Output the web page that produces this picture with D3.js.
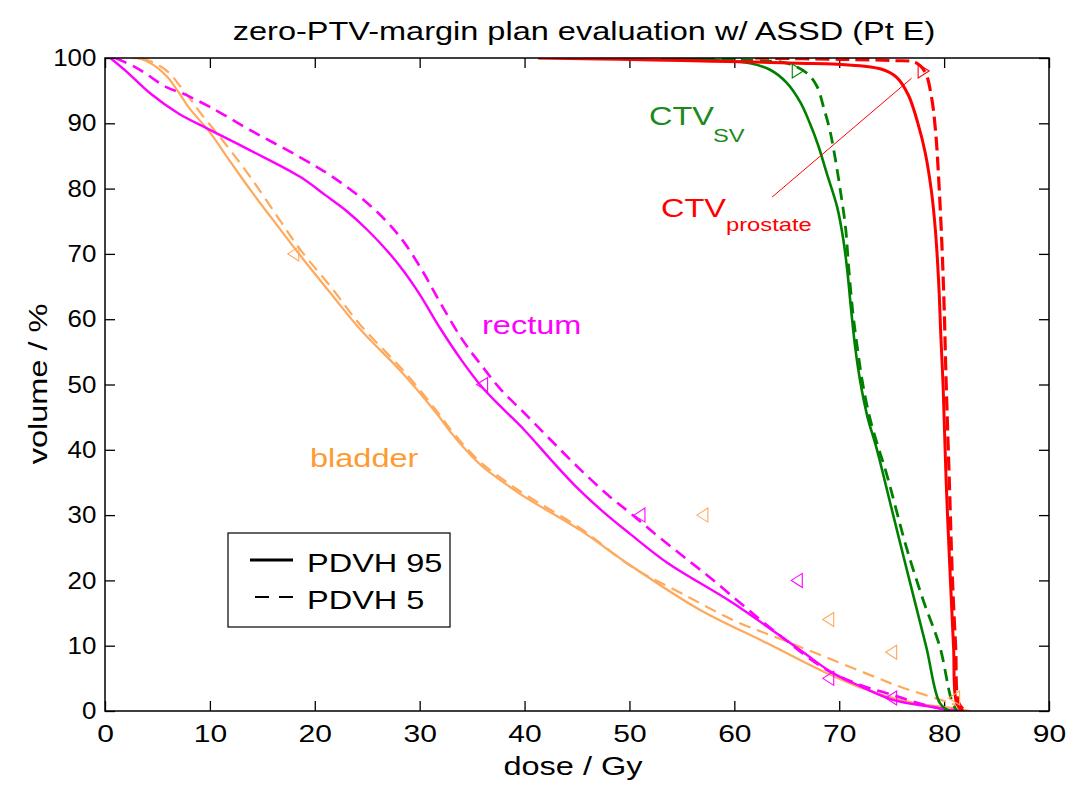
<!DOCTYPE html>
<html>
<head>
<meta charset="utf-8">
<script src="https://cdn.jsdelivr.net/npm/d3@7"></script>
<style>
  body { margin: 0; background: #fff; }
  text { font-family: 'Liberation Sans', Arial, sans-serif; }
</style>
</head>
<body>
<svg width="1069" height="786"></svg>
<script>
// dose (Gy) / volume (%) pairs
const bladder95 = [[2.5,100],[3.5,99.8],[5,98.5],[6,97],[7,94.8],[8,92.4],[10,88.6],[12,84],[14,79.5],[16.4,74.4],[18.6,69.8],[21.7,63.6],[24.3,58.5],[28.4,51.7],[31.6,45.6],[33,42.6],[34.5,39.8],[36,37.4],[38,35],[40,32.8],[45.3,27.7],[50,22.4],[56.7,15.5],[63.1,10.4],[68.8,5.8],[72,3.6],[75.8,1.7],[78,1.0],[80.6,0.5],[82.5,0]];
const bladder5 = [[3.5,100],[5,99],[6.2,97.6],[7.1,95.8],[8.1,93.8],[9.1,91.6],[11.6,86.6],[13.8,81.9],[16.4,75.8],[18.6,70.7],[21.7,64.6],[24.3,59.2],[28.4,52.2],[31.6,46],[33,43],[34.5,40.2],[36,37.8],[38,35.4],[40,33.2],[45.3,28],[50.3,22],[55,18],[59.9,13.9],[64.6,10.9],[69.4,7.8],[74.2,4.7],[75.8,3.7],[80.6,1.2],[82.5,0]];
const rectum95 = [[0.5,100],[2,98],[4.3,94.6],[7,91.5],[10,89],[13.8,85.9],[18.6,81.8],[21,79],[23,76.6],[25,73.7],[27,70.3],[28.5,67.3],[30,63.8],[32,58.5],[34,53.7],[36,49.5],[38,46.2],[40,43],[42.5,38.5],[45,34.2],[47.5,30.5],[50,27.2],[53.6,22.7],[59.9,16.5],[66.3,9.3],[69.4,5.8],[72,3.8],[75.1,1.7],[78.9,0.6],[81,0]];
const rectum5 = [[1,100],[3,98.5],[5.9,95.5],[7.5,94.5],[10,92.5],[13.8,89],[18.6,84.8],[21.7,81.8],[25,77.8],[27,74.7],[28.5,71.8],[30.3,67.3],[32,62.4],[34.1,56.8],[36,52.7],[37.7,49.3],[40,45.6],[42.5,41.5],[45.3,37],[48,33],[50,30.4],[53,26.4],[57.7,20.4],[64,12],[68.8,6.3],[72,4],[75,2.5],[78,1],[80,0.3],[82,0]];
const ctvSv95 = [[53,100],[58,99.7],[61.5,99.2],[63.4,98.2],[65,96.2],[66.3,93.2],[67.2,90],[68,86.6],[68.8,82.4],[69.8,77.2],[70.4,72.1],[70.8,67],[71.1,62],[71.5,56],[72,50.5],[72.7,45],[73.6,40],[75.1,30.3],[76.7,20],[78.3,9.8],[79.6,1.2],[80.5,0]];
const ctvSv5 = [[57,100],[62,99.6],[65,99.2],[66.9,97.7],[67.9,95.6],[68.5,92.5],[69.1,89],[69.6,84.8],[70.1,79.8],[70.6,74.1],[70.9,68],[71.3,61],[71.7,56],[72.2,50.5],[72.9,45],[73.7,40.5],[74.5,36.4],[76.4,25.1],[78,17],[79.6,9.8],[80.7,1.7],[81.2,0]];
const ctvPr95 = [[41.3,100],[49,99.8],[55,99.6],[62,99.4],[66,99.2],[69.4,99.1],[72,98.8],[74.2,98.2],[75.5,97],[76.6,94.3],[77.5,90],[78.2,85.5],[78.8,79.5],[79.2,73],[79.5,65],[79.7,57],[79.9,50],[80.2,35],[80.6,20],[80.9,9.8],[81.2,1.2],[81.8,0]];
const ctvPr5 = [[62,100],[70,99.8],[75,99.6],[77.3,99.3],[78.2,97.8],[78.8,94],[79.2,88.5],[79.5,81],[79.8,71],[80,62],[80.2,50],[80.5,35],[80.8,20],[81.1,9.8],[81.4,1.2],[82,0]];

// constraint markers
const rectumMarks = [[36,50],[51,30],[66,20],[69,5],[75,2]];
const bladderMarks = [[18,70],[57,30],[69,14],[75,9],[81,2]];
const ctvSvMarks = [[66,98]];
const ctvPrMarks = [[78,98]];
const pointerLine = [[63.6,78.7],[76.9,96.9]];

const xTicks = d3.range(0, 91, 10);
const yTicks = d3.range(0, 101, 10);

const ORANGE = '#ffa95c', MAGENTA = '#ff00ff', GREEN = '#008000', RED = '#ff0000';
const SX = 1.25; // glyphs in the original are wider than Helvetica

const svg = d3.select('svg');

const x = d3.scaleLinear().domain([0, 90]).range([105, 1049]);
const y = d3.scaleLinear().domain([0, 100]).range([711, 58]);

svg.append('defs').append('clipPath').attr('id', 'plot')
  .append('rect')
    .attr('x', x(0)).attr('y', y(100))
    .attr('width', x(90) - x(0)).attr('height', y(0) - y(100));

function label(txt, px, py, size, color, anchor, rot) {
  return svg.append('text')
    .attr('transform', 'translate(' + px + ',' + py + ')' + (rot ? ' rotate(' + rot + ')' : '') + ' scale(' + SX + ',1)')
    .attr('text-anchor', anchor || 'start')
    .attr('font-size', size)
    .attr('fill', color || '#000')
    .text(txt);
}

// axes with inward ticks on all four sides
const styleAxis = g => {
  g.select('.domain').remove();
  g.selectAll('line').attr('stroke', '#000').attr('stroke-width', 1.3);
};

svg.append('g').attr('transform', 'translate(0,' + y(0) + ')')
  .call(d3.axisBottom(x).tickValues(xTicks).tickSize(-10).tickPadding(14))
  .call(styleAxis)
  .call(g => g.selectAll('text').attr('font-size', 24).attr('transform', 'scale(' + SX + ',1)'));
svg.append('g').attr('transform', 'translate(0,' + y(100) + ')')
  .call(d3.axisTop(x).tickValues(xTicks).tickSize(-10).tickFormat(''))
  .call(styleAxis);
svg.append('g').attr('transform', 'translate(' + x(0) + ',0)')
  .call(d3.axisLeft(y).tickValues(yTicks).tickSize(-10).tickPadding(8))
  .call(styleAxis)
  .call(g => g.selectAll('text').attr('font-size', 24).attr('transform', 'scale(1.08,1)'));
svg.append('g').attr('transform', 'translate(' + x(90) + ',0)')
  .call(d3.axisRight(y).tickValues(yTicks).tickSize(-10).tickFormat(''))
  .call(styleAxis);

svg.selectAll('.tick text').attr('font-family', "'Liberation Sans', Arial, sans-serif").attr('fill', '#000');

const line = d3.line()
  .x(d => x(d[0]))
  .y(d => y(d[1]))
  .curve(d3.curveCatmullRom.alpha(0.5));

const curves = [
  { data: bladder95, color: ORANGE, w: 2.2, dash: null },
  { data: bladder5, color: ORANGE, w: 2.2, dash: '12,7' },
  { data: rectum95, color: MAGENTA, w: 2.4, dash: null },
  { data: rectum5, color: MAGENTA, w: 2.6, dash: '12,7' },
  { data: ctvSv95, color: GREEN, w: 2.6, dash: null },
  { data: ctvSv5, color: GREEN, w: 2.8, dash: '12,7' },
  { data: ctvPr95, color: RED, w: 3, dash: null },
  { data: ctvPr5, color: RED, w: 3.2, dash: '14,6' }
];

const plot = svg.append('g').attr('clip-path', 'url(#plot)');

plot.selectAll('path.dvh')
  .data(curves)
  .enter().append('path')
    .attr('class', 'dvh')
    .attr('d', d => line(d.data))
    .attr('fill', 'none')
    .attr('stroke', d => d.color)
    .attr('stroke-width', d => d.w)
    .attr('stroke-dasharray', d => d.dash);

plot.append('path')
  .attr('d', d3.line().x(d => x(d[0])).y(d => y(d[1]))(pointerLine))
  .attr('stroke', RED)
  .attr('stroke-width', 1)
  .attr('fill', 'none');

// open triangle markers
const triLeft = 'M-6,0L5,-7L5,7Z';
const triRight = 'M6,0L-5,-7L-5,7Z';
const markerSets = [
  { data: rectumMarks, color: MAGENTA, shape: triLeft },
  { data: bladderMarks, color: ORANGE, shape: triLeft },
  { data: ctvSvMarks, color: GREEN, shape: triRight },
  { data: ctvPrMarks, color: RED, shape: triRight }
];
markerSets.forEach(m => {
  svg.append('g').selectAll('path')
    .data(m.data)
    .enter().append('path')
      .attr('d', m.shape)
      .attr('transform', d => 'translate(' + x(d[0]) + ',' + y(d[1]) + ')')
      .attr('fill', 'none')
      .attr('stroke', m.color)
      .attr('stroke-width', 1.1);
});

// frame
svg.append('rect')
  .attr('x', x(0)).attr('y', y(100))
  .attr('width', x(90) - x(0)).attr('height', y(0) - y(100))
  .attr('fill', 'none').attr('stroke', '#000').attr('stroke-width', 1.5);

// structure labels
label('rectum', 482, 334, 26, MAGENTA);
label('bladder', 310, 467, 26, '#ff9a33');
label('CTV', 649, 125, 26, '#1a8a1a');
label('SV', 713, 142, 19, '#1a8a1a');
label('CTV', 661, 217, 26, RED);
label('prostate', 726, 231, 19, RED);

// legend
const legend = svg.append('g');
legend.append('rect')
  .attr('x', 228).attr('y', 533).attr('width', 222).attr('height', 94)
  .attr('fill', '#fff').attr('stroke', '#000').attr('stroke-width', 1.2);
legend.append('line')
  .attr('x1', 250).attr('x2', 293).attr('y1', 560).attr('y2', 560)
  .attr('stroke', '#000').attr('stroke-width', 3);
legend.append('line')
  .attr('x1', 255).attr('x2', 294).attr('y1', 597).attr('y2', 597)
  .attr('stroke', '#000').attr('stroke-width', 2).attr('stroke-dasharray', '14,10');
label('PDVH 95', 307, 572, 26);
label('PDVH 5', 307, 609, 26);

// titles
label('zero-PTV-margin plan evaluation w/ ASSD (Pt E)', 584, 40, 26, '#000', 'middle');
label('dose / Gy', 573, 775, 26, '#000', 'middle');
label('volume / %', 47, 384, 26, '#000', 'middle', -90);
</script>
</body>
</html>
